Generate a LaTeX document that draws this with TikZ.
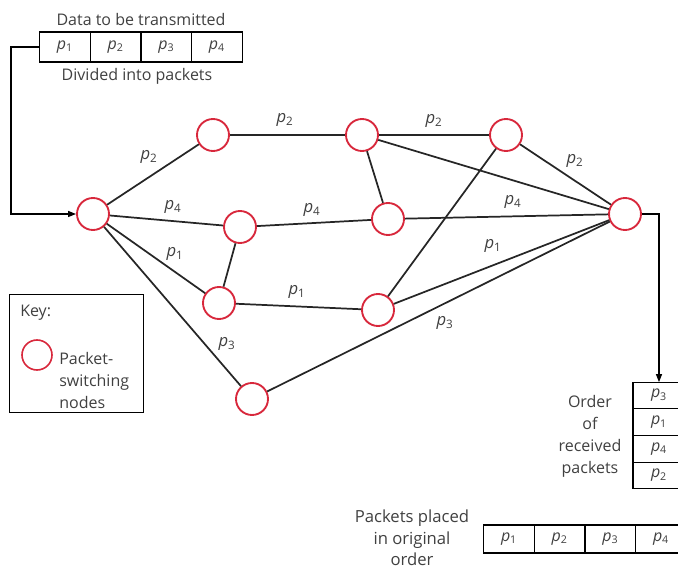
\documentclass[tikz,border=0pt]{standalone}
\usepackage{fontspec}
\setsansfont{Open Sans}
\usetikzlibrary{arrows.meta, positioning}

\definecolor{nodered}{HTML}{D8283C}
\definecolor{txt}{HTML}{404040}
\newcommand{\pk}[1]{{\itshape p}\textsubscript{#1}}

\begin{document}
\begin{tikzpicture}[
                x=0.75pt, y=-0.75pt,
                every node/.style={font=\sffamily\fontsize{12}{14}\selectfont, text=txt},
                pnode/.style={circle, draw=nodered, line width=1.4pt, fill=white, minimum size=24pt, inner sep=0pt},
                cell/.style={draw=black, line width=0.8pt, minimum width=38pt, minimum height=22.5pt, inner sep=0pt, outer sep=0pt},
                rcell/.style={cell, minimum width=39pt, minimum height=20pt},
                bcell/.style={cell, minimum width=38pt, minimum height=21pt},
                link/.style={line width=1.3pt, draw=black!85},
                lbl/.style={font=\sffamily\fontsize{12.5}{14}\selectfont},
                stack/.style={align=center, font=\sffamily\fontsize{12}{16.5}\selectfont},
                flow/.style={line width=0.9pt, -{Triangle[length=6pt, width=4.5pt]}}
            ]
            \useasboundingbox (0,0) rectangle (678,566);

            % Data to be transmitted
            \node[cell] (t1) at (65,47) {\pk{1}};
            \node[cell, right=0pt of t1] (t2) {\pk{2}};
            \node[cell, right=0pt of t2] (t3) {\pk{3}};
            \node[cell, right=0pt of t3] (t4) {\pk{4}};
            \node (dataTxt) at (141,20) {Data to be transmitted};
            \node (divTxt) at (137,76) {Divided into packets};

            % Packet-switching nodes
            \node[pnode] (src) at (93,214) {};
            \node[pnode] (b) at (213,135) {};
            \node[pnode] (c) at (362,135) {};
            \node[pnode] (d) at (506,135) {};
            \node[pnode] (e) at (240,227) {};
            \node[pnode] (f) at (388,219) {};
            \node[pnode] (g) at (219,303) {};
            \node[pnode] (h) at (378,310) {};
            \node[pnode] (i) at (252,399) {};
            \node[pnode] (dst) at (625,214) {};

            % Links
            \draw[link] (src) -- (b);
            \draw[link] (b) -- (c);
            \draw[link] (c) -- (d);
            \draw[link] (d) -- (dst);
            \draw[link] (c) -- (dst);
            \draw[link] (c) -- (f);
            \draw[link] (src) -- (e);
            \draw[link] (e) -- (f);
            \draw[link] (f) -- (dst);
            \draw[link] (src) -- (g);
            \draw[link] (e) -- (g);
            \draw[link] (g) -- (h);
            \draw[link] (h) -- (dst);
            \draw[link] (h) -- (d);
            \draw[link] (src) -- (i);
            \draw[link] (i) -- (dst);

            % Packet labels
            \node[lbl] (lb2a) at (149,157) {\pk{2}};
            \node[lbl] (lb2b) at (285,120) {\pk{2}};
            \node[lbl] (lb2c) at (434,121) {\pk{2}};
            \node[lbl] (lb2d) at (575,161) {\pk{2}};
            \node[lbl] (lb4a) at (173,207) {\pk{4}};
            \node[lbl] (lb4b) at (312,210) {\pk{4}};
            \node[lbl] (lb4c) at (513,202) {\pk{4}};
            \node[lbl] (lb1a) at (175,254) {\pk{1}};
            \node[lbl] (lb1b) at (297,292) {\pk{1}};
            \node[lbl] (lb1c) at (493,246) {\pk{1}};
            \node[lbl] (lb3a) at (227,344) {\pk{3}};
            \node[lbl] (lb3b) at (445,323) {\pk{3}};

            % Order of received packets
            \node[rcell] (r1) at (659,395.5) {\pk{3}};
            \node[rcell, below=0pt of r1] (r2) {\pk{1}};
            \node[rcell, below=0pt of r2] (r3) {\pk{4}};
            \node[rcell, below=0pt of r3] (r4) {\pk{2}};
            \node[stack] (ordTxt) at (590,436) {Order\\of\\received\\packets};

            % Packets placed in original order
            \node[bcell] (o1) at (509,539) {\pk{1}};
            \node[bcell, right=0pt of o1] (o2) {\pk{2}};
            \node[bcell, right=0pt of o2] (o3) {\pk{3}};
            \node[bcell, right=0pt of o3] (o4) {\pk{4}};
            \node[stack, font=\sffamily\fontsize{12.5}{16}\selectfont] (origTxt) at (412,538) {Packets placed\\in original\\order};

            % Input and output
            \coordinate (inBend) at (11,214);
            \draw[flow] (t1.west) -| (inBend) -- (src);
            \draw[flow] (dst.east) -| (r1.north);

            % Key
            \node[draw=black, line width=0.8pt, minimum width=100pt, minimum height=88pt, inner sep=0pt] (keyBox) at (76.5,353.5) {};
            \node[anchor=west, inner sep=0pt] (keyTxt) at (20,313) {Key:};
            \node[pnode, minimum size=22.5pt, line width=1.2pt] (keyNode) at (37,355) {};
            \node[anchor=west, align=left, inner sep=0pt, font=\sffamily\fontsize{12}{16.5}\selectfont] (keyLbl) at (59,380) {Packet-\\switching\\nodes};
        \end{tikzpicture}
\end{document}
